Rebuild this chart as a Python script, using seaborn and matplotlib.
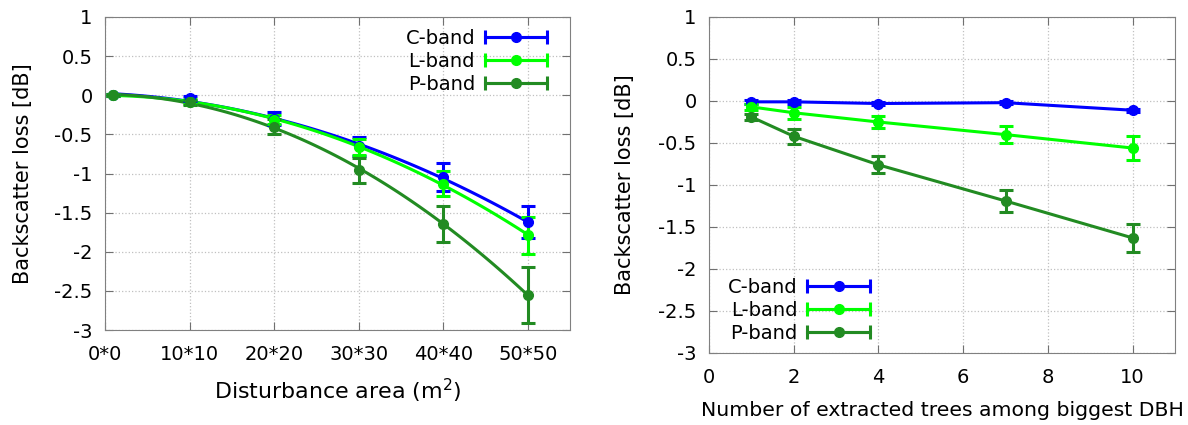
import numpy as np
import pandas as pd
import matplotlib
matplotlib.use("Agg")
import matplotlib.pyplot as plt
import seaborn as sns
from matplotlib.container import ErrorbarContainer
from matplotlib.legend_handler import HandlerErrorbar

# left panel: disturbance area (side length in m)
side = [1, 10, 20, 30, 40, 50]
side_ticks = [0, 10, 20, 30, 40, 50]
side_labels = ["0*0", "10*10", "20*20", "30*30", "40*40", "50*50"]
c_area = [0.0, -0.04, -0.30, -0.65, -1.05, -1.62]
c_area_err = [0.01, 0.03, 0.08, 0.12, 0.18, 0.21]
l_area = [0.0, -0.08, -0.31, -0.66, -1.13, -1.79]
l_area_err = [0.01, 0.03, 0.06, 0.10, 0.16, 0.24]
p_area = [0.0, -0.09, -0.40, -0.96, -1.64, -2.55]
p_area_err = [0.01, 0.03, 0.10, 0.16, 0.23, 0.36]

# right panel: number of extracted trees
trees = [1, 2, 4, 7, 10]
c_trees = [-0.01, -0.01, -0.03, -0.02, -0.11]
c_trees_err = [0.02, 0.02, 0.02, 0.02, 0.02]
l_trees = [-0.07, -0.14, -0.25, -0.40, -0.56]
l_trees_err = [0.04, 0.07, 0.07, 0.10, 0.14]
p_trees = [-0.19, -0.42, -0.76, -1.19, -1.63]
p_trees_err = [0.04, 0.09, 0.10, 0.13, 0.17]

bands = ["C-band", "L-band", "P-band"]
colors = {"C-band": "#0000ff", "L-band": "#00ff00", "P-band": "#228b22"}

area_df = pd.concat([
    pd.DataFrame({"x": side, "y": v, "err": e, "band": b})
    for b, v, e in zip(bands, [c_area, l_area, p_area], [c_area_err, l_area_err, p_area_err])
], ignore_index=True)
trees_df = pd.concat([
    pd.DataFrame({"x": trees, "y": v, "err": e, "band": b})
    for b, v, e in zip(bands, [c_trees, l_trees, p_trees], [c_trees_err, l_trees_err, p_trees_err])
], ignore_index=True)

plt.rcParams["font.family"] = ["DejaVu Sans"]
W, H = 1188, 425
fig = plt.figure(figsize=(W / 100, H / 100), dpi=100)
ax1 = fig.add_axes([105 / W, 1 - 330 / H, 465 / W, 313 / H])
ax2 = fig.add_axes([709 / W, 1 - 353 / H, 466 / W, 336 / H])

lw = 2.2
ms = 7
cap = 5
for b in bands:
    d = area_df[area_df.band == b]
    sns.regplot(data=d, x="x", y="y", order=2, ci=None, scatter=False,
                truncate=True, color=colors[b], line_kws={"lw": lw}, ax=ax1)
    ax1.errorbar(d.x, d.y, yerr=d.err, fmt="o", color=colors[b], ms=ms,
                 elinewidth=lw, capsize=cap, capthick=lw, zorder=3)

sns.lineplot(data=trees_df, x="x", y="y", hue="band", palette=colors,
             lw=lw, legend=False, ax=ax2)
for b in bands:
    d = trees_df[trees_df.band == b]
    ax2.errorbar(d.x, d.y, yerr=d.err, fmt="o", color=colors[b], ms=ms,
                 elinewidth=lw, capsize=cap, capthick=lw, zorder=3)

hl = 3.2
for ax in (ax1, ax2):
    ax.set_ylim(-3, 1)
    ax.set_yticks(np.arange(-3, 1.01, 0.5))
    ax.set_yticklabels([f"{v:g}" for v in np.arange(-3, 1.01, 0.5)])
    ax.grid(True, ls=":", color="#c0c0c0", lw=0.9)
    ax.tick_params(direction="in", length=6, top=True, right=True,
                   color="#707070", labelsize=14)
    ax.tick_params(axis="y", pad=9)
    ax.tick_params(axis="x", pad=11)
    for s in ax.spines.values():
        s.set_color("#808080")
    ax.set_ylabel("Backscatter loss [dB]", fontsize=15)
    for b in bands:
        ax.errorbar([np.nan], [np.nan], xerr=[np.nan], fmt="-o",
                    color=colors[b], ms=ms, lw=lw, elinewidth=lw,
                    capsize=cap, capthick=lw, label=b)

hmap = {ErrorbarContainer: HandlerErrorbar(xerr_size=hl / 2)}
leg_kw = dict(frameon=False, markerfirst=False, fontsize=14, handlelength=hl,
              handletextpad=0.5, labelspacing=0.2, borderpad=0,
              borderaxespad=0, handler_map=hmap)

ax1.set_xlim(0, 55)
ax1.set_xticks(side_ticks)
ax1.set_xticklabels(side_labels)
ax1.set_xlabel("Disturbance area (m$^2$)", fontsize=15.9)
ax1.yaxis.set_label_coords(-0.155, 0.5)
ax1.xaxis.set_label_coords(0.5, -0.15)
ax1.legend(loc="upper right", bbox_to_anchor=(0.9505, 0.961), **leg_kw)

ax2.set_xlim(0, 11)
ax2.set_xticks([0, 2, 4, 6, 8, 10])
ax2.set_xlabel("Number of extracted trees among biggest DBH", fontsize=14.7)
ax2.yaxis.set_label_coords(-0.159, 0.5)
ax2.xaxis.set_label_coords(0.5, -0.143)
ax2.legend(loc="lower left", bbox_to_anchor=(0.041, 0.03), **leg_kw)

fig.savefig("out.png", dpi=100)
